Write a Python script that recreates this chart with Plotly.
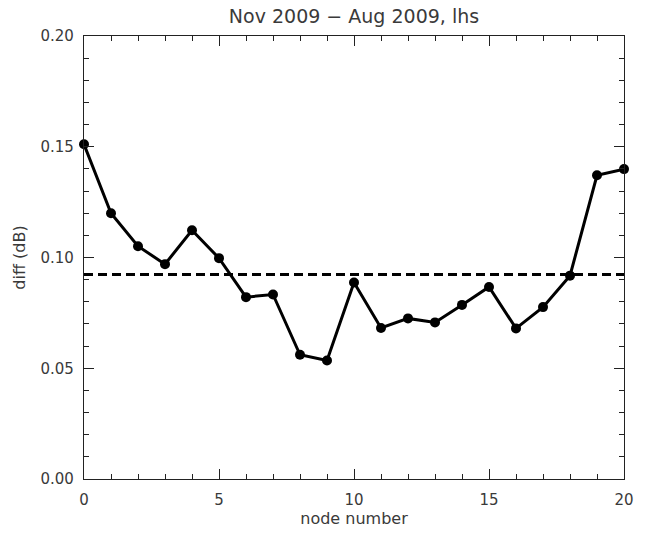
import numpy as np
import plotly.graph_objects as go

# Node index and the measured difference per node (dB)
nodes = list(range(21))
diff_db = [0.1511, 0.1200, 0.1051, 0.0970, 0.1123, 0.0997, 0.0821, 0.0833,
           0.0561, 0.0535, 0.0887, 0.0682, 0.0725, 0.0707, 0.0786, 0.0867,
           0.0680, 0.0776, 0.0918, 0.1371, 0.1399]

x_ticks = [0, 5, 10, 15, 20]
y_ticks = [0.00, 0.05, 0.10, 0.15, 0.20]
y_tick_text = ["0.00", "0.05", "0.10", "0.15", "0.20"]

title_text = "Nov 2009 \u2212 Aug 2009, lhs"
x_title = "node number"
y_title = "diff (dB)"

mean_diff = float(np.mean(diff_db))

font_family = "DejaVu Sans"
text_color = "#3a3a3a"

fig = go.Figure()

# Mean level across all nodes
fig.add_trace(go.Scatter(
    x=[nodes[0], nodes[-1]], y=[mean_diff, mean_diff],
    mode="lines",
    line=dict(color="black", width=3, dash="9px,5px"),
    hoverinfo="skip", showlegend=False,
))

# Per-node differences
fig.add_trace(go.Scatter(
    x=nodes, y=diff_db,
    mode="lines+markers",
    line=dict(color="black", width=3),
    marker=dict(color="black", size=10, symbol="circle"),
    cliponaxis=False, showlegend=False,
))

axis_common = dict(
    showgrid=False, zeroline=False,
    showline=True, linecolor="#222222", linewidth=1.3,
    mirror="ticks", ticks="inside", tickcolor="#222222", tickwidth=1,
    ticklen=10,
    tickfont=dict(family=font_family, size=15, color=text_color),
)

fig.update_xaxes(
    range=[0, 20], tickvals=x_ticks, ticktext=[str(v) for v in x_ticks],
    minor=dict(dtick=1, ticks="inside", ticklen=5, tickcolor="#222222", tickwidth=1),
    ticklabelstandoff=7,
    title=dict(text=x_title, font=dict(family=font_family, size=16, color=text_color), standoff=4),
    **axis_common,
)
fig.update_yaxes(
    range=[0, 0.20], tickvals=y_ticks, ticktext=y_tick_text,
    minor=dict(dtick=0.01, ticks="inside", ticklen=5, tickcolor="#222222", tickwidth=1),
    ticklabelstandoff=6,
    title=dict(text=y_title, font=dict(family=font_family, size=16, color=text_color), standoff=10),
    **axis_common,
)

fig.update_layout(
    width=646, height=536,
    margin=dict(l=84, r=12, t=36, b=54),
    paper_bgcolor="white", plot_bgcolor="white",
    title=dict(text=title_text, x=0.5, xref="paper", y=1, yref="container",
               yanchor="top", pad=dict(t=10),
               font=dict(family=font_family, size=19, color=text_color)),
    showlegend=False,
)

fig.write_html("out.html")
